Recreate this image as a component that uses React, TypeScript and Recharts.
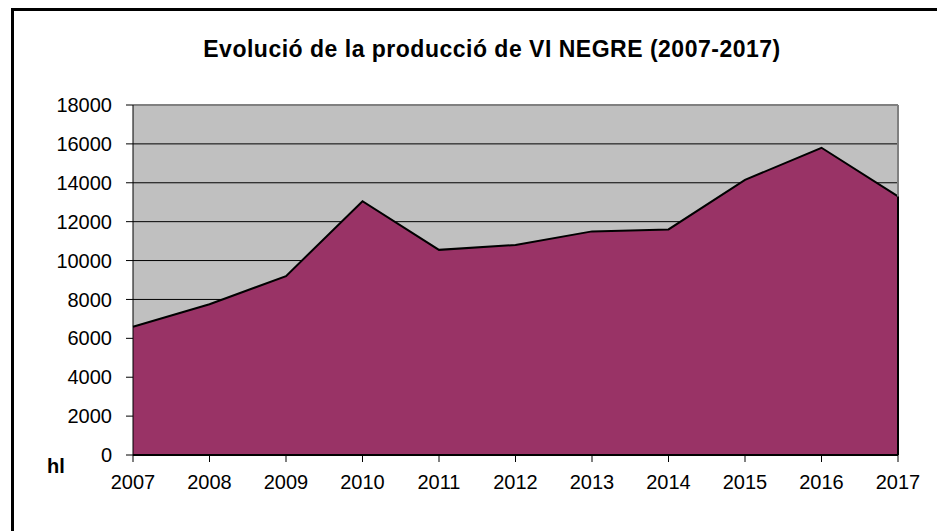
import { AreaChart, Area, XAxis, YAxis, CartesianGrid, ReferenceLine } from 'recharts'

// production of red wine, hectolitres per year
const years = ['2007', '2008', '2009', '2010', '2011', '2012', '2013', '2014', '2015', '2016', '2017']
const production = [6600, 7750, 9200, 13050, 10550, 10800, 11500, 11600, 14150, 15800, 13300]
const yTicks = [0, 2000, 4000, 6000, 8000, 10000, 12000, 14000, 16000, 18000]
const gridValues = yTicks.slice(1, -1)

const data = years.map((year, i) => ({ year, hl: production[i] }))

const FONT = '"Liberation Sans", Arial, sans-serif'

export default function App() {
  const lastYear = years[years.length - 1]
  const lastValue = production[production.length - 1]

  return (
    <div
      style={{
        position: 'absolute',
        left: 0,
        top: 0,
        width: 937,
        height: 531,
        background: '#fff',
        overflow: 'hidden',
        fontFamily: FONT,
      }}
    >
      {/* chart frame, cut off on the right and bottom like the original */}
      <div
        style={{
          position: 'absolute',
          left: 11,
          top: 8,
          width: 1000,
          height: 600,
          borderLeft: '3px solid #000',
          borderTop: '3px solid #000',
        }}
      />
      <div
        style={{
          position: 'absolute',
          left: 0,
          width: 984,
          top: 36,
          textAlign: 'center',
          fontWeight: 'bold',
          fontSize: 23,
          letterSpacing: 0.5,
          color: '#000',
        }}
      >
        Evolució de la producció de VI NEGRE (2007-2017)
      </div>
      <div
        style={{
          position: 'absolute',
          left: 47,
          top: 455,
          fontWeight: 'bold',
          fontSize: 20,
          color: '#000',
        }}
      >
        hl
      </div>
      <div style={{ position: 'absolute', left: 0, top: 0 }}>
        <AreaChart width={937} height={531} data={data} margin={{ top: 105, right: 39, bottom: 36, left: 0 }}>
          <CartesianGrid
            vertical={false}
            horizontalValues={gridValues}
            stroke="#000"
            fill="#C0C0C0"
            fillOpacity={1}
          />
          <XAxis
            dataKey="year"
            height={40}
            interval={0}
            tickSize={7}
            tickMargin={13}
            axisLine={{ stroke: '#000', strokeWidth: 2 }}
            tickLine={{ stroke: '#000' }}
            tick={{ fill: '#000', fontSize: 20 }}
          />
          <YAxis
            width={133}
            domain={[0, 18000]}
            ticks={yTicks}
            interval={0}
            tickSize={7}
            tickMargin={14}
            axisLine={{ stroke: '#000' }}
            tickLine={{ stroke: '#000' }}
            tick={{ fill: '#000', fontSize: 20 }}
          />
          <Area
            type="linear"
            dataKey="hl"
            stroke="#000"
            strokeWidth={2}
            fill="#993366"
            fillOpacity={1}
            dot={false}
            activeDot={false}
            isAnimationActive={false}
          />
          <ReferenceLine y={18000} stroke="#808080" strokeWidth={2} />
          <ReferenceLine x={lastYear} stroke="#808080" strokeWidth={2} />
          <ReferenceLine
            segment={[
              { x: lastYear, y: 0 },
              { x: lastYear, y: lastValue },
            ]}
            stroke="#000"
            strokeWidth={2}
          />
        </AreaChart>
      </div>
    </div>
  )
}
